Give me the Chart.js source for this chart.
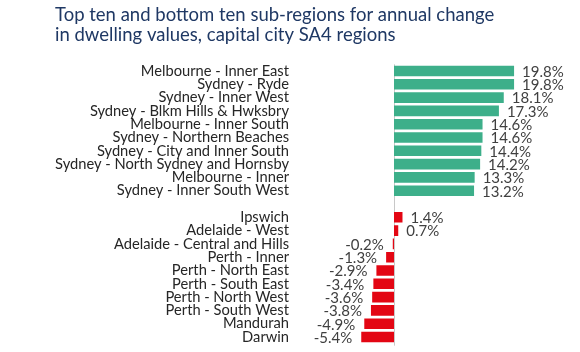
<!DOCTYPE html>
<html>
<head>
<meta charset="utf-8">
<script src="https://cdn.jsdelivr.net/npm/chart.js@4/dist/chart.umd.min.js"></script>
<style>
  html, body { margin: 0; padding: 0; background: #ffffff; }
  #wrap { width: 580px; height: 352px; }
</style>
</head>
<body>
<div id="wrap"><canvas id="c" width="580" height="352"></canvas></div>
<script>
const topRegions = [
  "Melbourne - Inner East", "Sydney - Ryde", "Sydney - Inner West",
  "Sydney - Blkm Hills & Hwksbry", "Melbourne - Inner South",
  "Sydney - Northern Beaches", "Sydney - City and Inner South",
  "Sydney - North Sydney and Hornsby", "Melbourne - Inner",
  "Sydney - Inner South West"
];
const topValues = [19.8, 19.8, 18.1, 17.3, 14.6, 14.6, 14.4, 14.2, 13.3, 13.2];
const bottomRegions = [
  "Ipswich", "Adelaide - West", "Adelaide - Central and Hills", "Perth - Inner",
  "Perth - North East", "Perth - South East", "Perth - North West",
  "Perth - South West", "Mandurah", "Darwin"
];
const bottomValues = [1.4, 0.7, -0.2, -1.3, -2.9, -3.4, -3.6, -3.8, -4.9, -5.4];
const titleLines = [
  "Top ten and bottom ten sub-regions for annual change",
  "in dwelling values, capital city SA4 regions"
];

const labels = [...topRegions, "", ...bottomRegions];
const greenData = [...topValues, null, ...bottomRegions.map(() => null)];
const redData = [...topRegions.map(() => null), null, ...bottomValues];

const FONT = "Lato, 'Open Sans', sans-serif";

const valueLabels = {
  id: 'valueLabels',
  afterDatasetsDraw(chart) {
    const ctx = chart.ctx;
    ctx.save();
    ctx.font = "15px " + FONT;
    ctx.fillStyle = "#404040";
    ctx.textBaseline = "middle";
    chart.data.datasets.forEach((ds, di) => {
      const meta = chart.getDatasetMeta(di);
      meta.data.forEach((el, i) => {
        const v = ds.data[i];
        if (v === null || v === undefined) return;
        const txt = v.toFixed(1) + "%";
        if (v >= 0) {
          ctx.textAlign = "left";
          ctx.fillText(txt, el.x + 8, el.y + 1);
        } else {
          ctx.textAlign = "right";
          ctx.fillText(txt, el.x - 9, el.y + 1);
        }
      });
    });
    ctx.restore();
  }
};

const zeroLine = {
  id: 'zeroLine',
  beforeDatasetsDraw(chart) {
    const x = Math.round(chart.scales.x.getPixelForValue(0)) + 0.5;
    const a = chart.chartArea;
    const ctx = chart.ctx;
    ctx.save();
    ctx.strokeStyle = "#C8C8C8";
    ctx.lineWidth = 1;
    ctx.beginPath();
    ctx.moveTo(x, a.top);
    ctx.lineTo(x, a.bottom + 2);
    ctx.stroke();
    ctx.restore();
  }
};

new Chart(document.getElementById('c'), {
  type: 'bar',
  data: {
    labels: labels,
    datasets: [
      { data: greenData, backgroundColor: "#3DAF8A", barPercentage: 0.8, categoryPercentage: 1 },
      { data: redData, backgroundColor: "#E30613", barPercentage: 0.8, categoryPercentage: 1 }
    ]
  },
  options: {
    indexAxis: 'y',
    responsive: false,
    animation: false,
    layout: { padding: { left: 55, right: 35, top: 0, bottom: 8.35 } },
    plugins: {
      legend: { display: false },
      tooltip: { enabled: false },
      title: {
        display: true,
        text: titleLines,
        align: 'start',
        color: "#1F3864",
        font: { family: FONT, size: 18.5, weight: 'normal', lineHeight: '20px' },
        padding: { top: 5.5, bottom: 18.85 }
      }
    },
    scales: {
      x: {
        display: false,
        stacked: true,
        min: -15.5,
        max: 24.9
      },
      y: {
        stacked: true,
        afterFit(scale) {
          scale.width = 245;
          scale.paddingTop = 0;
          scale.paddingBottom = 0;
        },
        grid: { display: false, drawTicks: false },
        border: { display: false },
        ticks: {
          autoSkip: false,
          padding: 11,
          color: "#262626",
          font: { family: FONT, size: 14.7 }
        }
      }
    }
  },
  plugins: [zeroLine, valueLabels]
});
</script>
</body>
</html>
